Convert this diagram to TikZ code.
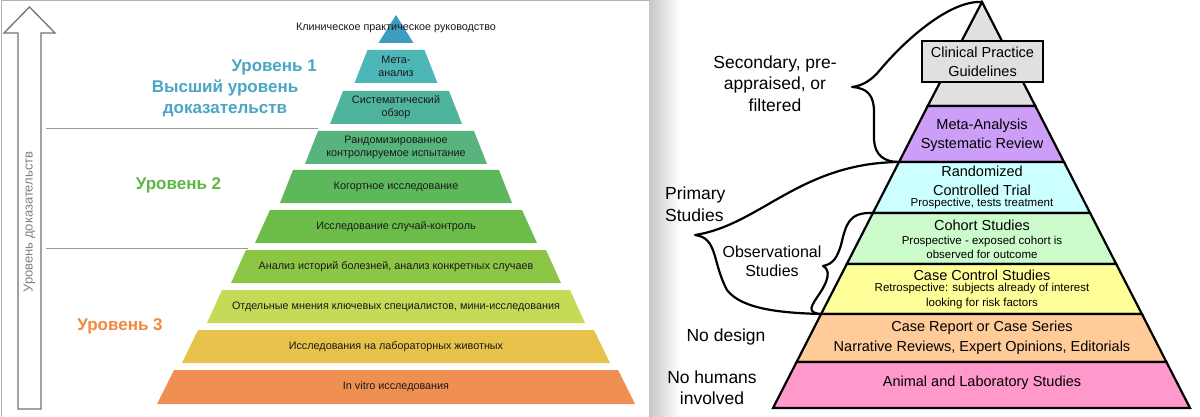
\documentclass[tikz,border=0pt]{standalone}
\usepackage{fontspec}
\setmainfont{Liberation Sans}
\usepackage{tikz}

\definecolor{lvlone}{HTML}{4AA6C4}
\definecolor{lvltwo}{HTML}{5CB845}
\definecolor{lvlthree}{HTML}{F0893C}
\definecolor{ruA}{HTML}{3C9DC1}
\definecolor{ruB}{HTML}{4DB6B6}
\definecolor{ruC}{HTML}{4FB49C}
\definecolor{ruD}{HTML}{56B47C}
\definecolor{ruE}{HTML}{5DB85B}
\definecolor{ruF}{HTML}{6CBC4A}
\definecolor{ruG}{HTML}{8DC545}
\definecolor{ruH}{HTML}{C6DA57}
\definecolor{ruI}{HTML}{E9C24C}
\definecolor{ruJ}{HTML}{F08F52}
\definecolor{cpggray}{HTML}{E0E0E0}
\definecolor{enpurple}{HTML}{CC9EF7}
\definecolor{encyan}{HTML}{CCFFFF}
\definecolor{engreen}{HTML}{CCFCCC}
\definecolor{enyellow}{HTML}{FFFF99}
\definecolor{enorange}{HTML}{FFCC99}
\definecolor{enpink}{HTML}{FF99CC}

\begin{document}
\begin{tikzpicture}[x=1pt, y=-1pt, every node/.style={inner sep=0pt, text=black!90},
	rulabel/.style={font=\fontsize{10.8}{13}\selectfont, align=center},
	level/.style={font=\bfseries\fontsize{17}{21}\selectfont, align=center},
	enlabel/.style={font=\fontsize{17.5}{21.5}\selectfont, align=center, text=black},
	entitle/.style={font=\fontsize{14.5}{19}\selectfont, align=center, text=black},
	ennote/.style={font=\fontsize{11.5}{14.5}\selectfont, align=center, text=black},
	band/.style={draw=black, line width=2.2pt},
	brace/.style={draw=black, line width=2.2pt, line join=round, line cap=round}]
	\useasboundingbox (0,0) rectangle (1200,417);
	\fill[white] (0,0) rectangle (1200,417);
	\draw[black!30, line width=1pt] (1.5,417) -- (1.5,0.5) -- (649,0.5) -- (649,417);
	\shade[left color=black!22, right color=white] (649.5,0) rectangle (680,417);

	\draw[black!55, line width=1.3pt] (18,409) -- (18,33) -- (4,33) -- (29.5,7) -- (55,33) -- (41,33) -- (41,409) -- cycle;
	\node[rotate=90, text=black!50, font=\fontsize{13}{15}\selectfont] (axis) at (29.5,222) {Уровень доказательств};
	\draw[black!40, line width=0.8pt] (46,128) -- (318,128);
	\draw[black!40, line width=0.8pt] (46,248) -- (248,248);
	\node[level, text=lvlone, anchor=east] (lvl1) at (317,67) {Уровень 1};
	\node[level, text=lvlone] (lvl1b) at (225,98) {Высший уровень\\доказательств};
	\node[level, text=lvltwo] (lvl2) at (178.5,185) {Уровень 2};
	\node[level, text=lvlthree] (lvl3) at (120,326) {Уровень 3};

	\fill[ruA] (396,15) -- (413.5,43) -- (378.5,43) -- cycle;
	\fill[ruB] (367.5,50) -- (424.5,50) -- (437.5,83) -- (354.5,83) -- cycle;
	\fill[ruC] (343,91) -- (449,91) -- (462,124) -- (330,124) -- cycle;
	\fill[ruD] (318,131) -- (474,131) -- (487,164) -- (305,164) -- cycle;
	\fill[ruE] (293,170) -- (499,170) -- (512,203) -- (280,203) -- cycle;
	\fill[ruF] (270,210) -- (522,210) -- (537,243) -- (255,243) -- cycle;
	\fill[ruG] (246,250) -- (546,250) -- (561,283) -- (231,283) -- cycle;
	\fill[ruH] (222,290) -- (570,290) -- (585,323) -- (207,323) -- cycle;
	\fill[ruI] (198,330) -- (594,330) -- (610,363) -- (182,363) -- cycle;
	\fill[ruJ] (174,370) -- (618,370) -- (635,404) -- (157,404) -- cycle;
	\node[rulabel] (guide) at (396,28) {Клиническое практическое руководство};
	\node[rulabel] (meta) at (396,66.5) {Мета-\\анализ};
	\node[rulabel] (sysrev) at (396,107) {Систематический\\обзор};
	\node[rulabel] (rct) at (396,147) {Рандомизированное\\контролируемое испытание};
	\node[rulabel] (cohortru) at (396,186.5) {Когортное исследование};
	\node[rulabel] (casectlru) at (396,226.5) {Исследование случай-контроль};
	\node[rulabel] (history) at (396,266.5) {Анализ историй болезней, анализ конкретных случаев};
	\node[rulabel] (opinion) at (396,306.5) {Отдельные мнения ключевых специалистов, мини-исследования};
	\node[rulabel] (animalru) at (396,346.5) {Исследования на лабораторных животных};
	\node[rulabel] (invitro) at (396,387) {In vitro исследования};

	\filldraw[band, fill=cpggray] (982,2) -- (1035.3,106) -- (927.7,106) -- cycle;
	\filldraw[band, fill=enpurple] (927.7,106) -- (1035.3,106) -- (1064,162) -- (899,162) -- cycle;
	\filldraw[band, fill=encyan] (899,162) -- (1064,162) -- (1090.1,213) -- (872.9,213) -- cycle;
	\filldraw[band, fill=engreen] (872.9,213) -- (1090.1,213) -- (1116.2,264) -- (846.8,264) -- cycle;
	\filldraw[band, fill=enyellow] (846.8,264) -- (1116.2,264) -- (1141.9,314) -- (821.1,314) -- cycle;
	\filldraw[band, fill=enorange] (821.1,314) -- (1141.9,314) -- (1166.4,362) -- (796.6,362) -- cycle;
	\filldraw[band, fill=enpink] (796.6,362) -- (1166.4,362) -- (1190,408) -- (773,408) -- cycle;
	\node[entitle, draw=black, line width=1.8pt, fill=cpggray, minimum width=121pt, minimum height=41pt] (cpg) at (982.5,61.5) {Clinical Practice\\Guidelines};
	\node[entitle] (masr) at (982,135.5) {Meta-Analysis\\Systematic Review};
	\node[entitle] (rand) at (982,180.5) {Randomized\\Controlled Trial};
	\node[ennote] (randnote) at (982,203.5) {Prospective, tests treatment};
	\node[entitle] (cohort) at (982,225) {Cohort Studies};
	\node[ennote] (cohortnote) at (982,247.5) {Prospective - exposed cohort is\\observed for outcome};
	\node[entitle] (casectl) at (982,275) {Case Control Studies};
	\node[ennote] (casenote) at (982,296) {Retrospective: subjects already of interest\\looking for risk factors};
	\node[entitle, font=\fontsize{14.5}{20}\selectfont] (casereport) at (982,338) {Case Report or Case Series\\Narrative Reviews, Expert Opinions, Editorials};
	\node[entitle] (animal) at (982,383) {Animal and Laboratory Studies};

	\node[enlabel] (secondary) at (775,83.5) {Secondary, pre-\\appraised, or\\filtered};
	\node[enlabel, align=left, anchor=west] (primary) at (665,204) {Primary\\Studies};
	\node[enlabel, font=\fontsize{16}{19}\selectfont] (observ) at (772,261.5) {Observational\\Studies};
	\node[enlabel] (nodesign) at (726,337) {No design};
	\node[enlabel] (nohumans) at (712,387.5) {No humans\\involved};

	\coordinate (apex) at (982,2);
	\coordinate (secTip) at (852,87);
	\coordinate (pv) at (899,162);
	\coordinate (pg) at (872.9,213);
	\coordinate (py) at (821.1,314);
	\coordinate (primTip) at (695,235);
	\coordinate (obsTip) at (823,266);
	\draw[brace] (apex) .. controls (950,0) and (905,40) .. (880,70) .. controls (872,80) and (862,86) .. (secTip) .. controls (868,88) and (874,96) .. (874,112) -- (874,140) .. controls (875,155) and (884,162) .. (pv);
	\draw[brace] (pv) .. controls (800,163) and (760,225) .. (primTip) .. controls (718,238) and (712,262) .. (727,290) .. controls (742,310) and (785,313) .. (py);
	\draw[brace] (pg) .. controls (848,212) and (846,225) .. (841,245) .. controls (837,258) and (833,264) .. (obsTip) .. controls (831,270) and (828,281) .. (820,293) .. controls (811,306) and (806,313) .. (py);
\end{tikzpicture}
\end{document}
